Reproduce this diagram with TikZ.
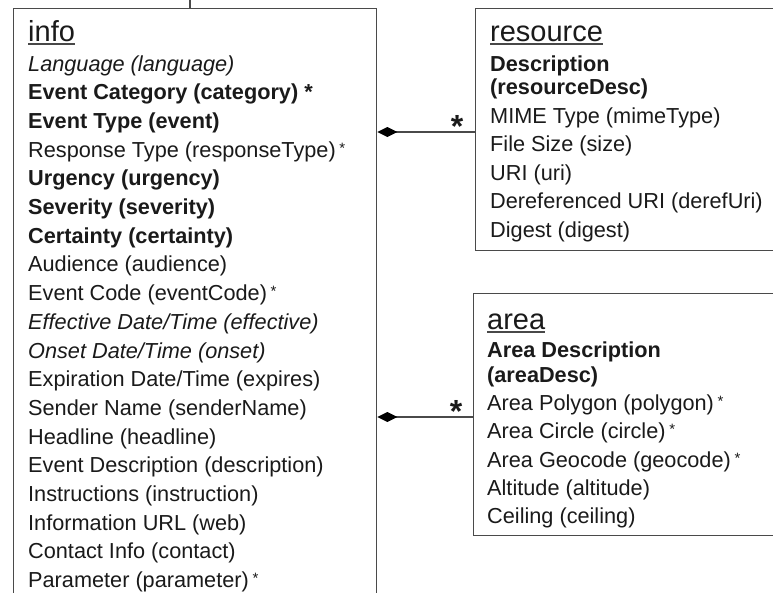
\documentclass[tikz,border=0pt]{standalone}
\usepackage{fontspec}
\setmainfont{Liberation Sans}
\usetikzlibrary{arrows.meta}
\definecolor{ink}{HTML}{1A1A1A}
\definecolor{edge}{HTML}{4A4A4A}
\newcommand\smallstar{\,\raisebox{4pt}{\fontsize{15}{15}\selectfont *}}
\begin{document}
\begin{tikzpicture}[x=1pt,y=-1pt,
 box/.style={draw=edge, line width=1.4pt, rectangle, inner sep=0pt, anchor=north west},
 row/.style={anchor=base west, inner sep=0pt, text=ink, font=\fontsize{21.7}{26}\selectfont},
 ttl/.style={anchor=base west, inner sep=0pt, text=ink, font=\fontsize{29}{32}\selectfont},
 uline/.style={draw=ink!80, line width=1.2pt},
 comp/.style={draw=edge, line width=1.4pt, -{Diamond[length=20pt,width=10pt,fill=black,color=black]}},
 mult/.style={inner sep=0pt, anchor=north, text=ink, font=\fontsize{32}{32}\selectfont\bfseries}]
\path[use as bounding box] (0,0) rectangle (773,592);
\clip (0,0) rectangle (773,592);
\fill[white] (0,0) rectangle (773,592);

% boxes
\node[box, minimum width=363pt, minimum height=620pt] (info) at (13,8) {};
\node[box, minimum width=330pt, minimum height=242pt] (resource) at (475,8) {};
\node[box, minimum width=330pt, minimum height=242pt] (area) at (473,293) {};

% link to parent (off the top)
\coordinate (parent) at (190,-10);
\draw[draw=edge, line width=1.4pt] (parent) -- (parent |- info.north);

% info
\node[ttl] (ti) at (28,41) {info};
\draw[uline] ([yshift=-3pt]ti.base west) -- ([yshift=-3pt]ti.base east);
\foreach \t [count=\k from 0] in {
 {\itshape Language (language)},
 {\bfseries Event Category (category) *},
 {\bfseries Event Type (event)},
 {Response Type (responseType)\smallstar},
 {\bfseries Urgency (urgency)},
 {\bfseries Severity (severity)},
 {\bfseries Certainty (certainty)},
 {Audience (audience)},
 {Event Code (eventCode)\smallstar},
 {\itshape Effective Date/Time (effective)},
 {\itshape Onset Date/Time (onset)},
 {Expiration Date/Time (expires)},
 {Sender Name (senderName)},
 {Headline (headline)},
 {Event Description (description)},
 {Instructions (instruction)},
 {Information URL (web)},
 {Contact Info (contact)},
 {Parameter (parameter)\smallstar}}
 \node[row] (i\k) at (28,71+28.7*\k) {\t};

% resource
\node[ttl] (tr) at (490,41) {resource};
\draw[uline] ([yshift=-3pt]tr.base west) -- ([yshift=-3pt]tr.base east);
\node[row, font=\fontsize{21.7}{26}\selectfont\bfseries] (r1) at (490,71) {Description};
\node[row, font=\fontsize{21.7}{26}\selectfont\bfseries] (r2) at (490,94) {(resourceDesc)};
\node[row] (r3) at (490,123) {MIME Type (mimeType)};
\node[row] (r4) at (490,151.5) {File Size (size)};
\node[row] (r5) at (490,180) {URI (uri)};
\node[row] (r6) at (490,208.5) {Dereferenced URI (derefUri)};
\node[row] (r7) at (490,237) {Digest (digest)};

% area
\node[ttl] (ta) at (487,329) {area};
\draw[uline] ([yshift=-3pt]ta.base west) -- ([yshift=-3pt]ta.base east);
\node[row, font=\fontsize{21.7}{26}\selectfont\bfseries] (a1) at (487,357) {Area Description};
\node[row, font=\fontsize{21.7}{26}\selectfont\bfseries] (a2) at (487,382) {(areaDesc)};
\node[row] (a3) at (487,410) {Area Polygon (polygon)\smallstar};
\node[row] (a4) at (487,438) {Area Circle (circle)\smallstar};
\node[row] (a5) at (487,467) {Area Geocode (geocode)\smallstar};
\node[row] (a6) at (487,495) {Altitude (altitude)};
\node[row] (a7) at (487,523) {Ceiling (ceiling)};

% composition connectors
\coordinate (cr) at (475,132);
\coordinate (ca) at (473,417);
\draw[comp] (resource.west |- cr) -- (info.east |- cr);
\draw[comp] (area.west |- ca) -- (info.east |- ca);
\node[mult] (mr) at (457,115) {*};
\node[mult] (ma) at (456,400) {*};
\end{tikzpicture}
\end{document}
